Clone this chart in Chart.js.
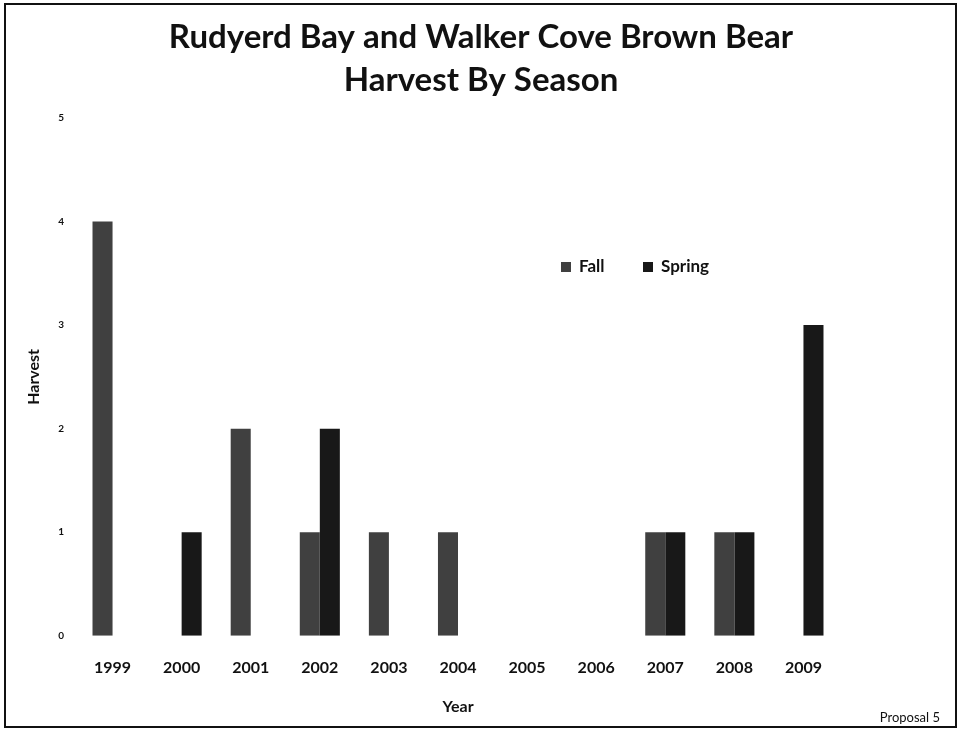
<!DOCTYPE html>
<html>
<head>
<meta charset="utf-8">
<script src="https://cdn.jsdelivr.net/npm/chart.js@4.4.0/dist/chart.umd.min.js"></script>
<style>
  html, body { margin: 0; padding: 0; background: #fff; }
  #wrap { position: relative; width: 961px; height: 732px; }
  #frame { position: absolute; left: 4px; top: 3px; width: 953px; height: 725px; border: 2px solid #111; box-sizing: border-box; pointer-events: none; }
</style>
</head>
<body>
<div id="wrap">
  <canvas id="barChart" width="961" height="732"></canvas>
  <div id="frame"></div>
</div>
<script>
var years = ['1999', '2000', '2001', '2002', '2003', '2004', '2005', '2006', '2007', '2008', '2009'];
var fallHarvest = [4, 0, 2, 1, 1, 1, 0, 0, 1, 1, 0];
var springHarvest = [0, 1, 0, 2, 0, 0, 0, 0, 1, 1, 3];
var yTicks = [0, 1, 2, 3, 4, 5];
var titleLines = ['Rudyerd Bay and Walker Cove Brown Bear', 'Harvest By Season'];
var footNote = 'Proposal 5';

var FONT = 'Lato, "Open Sans", sans-serif';

// title, in-plot legend and footnote drawn by hand (the title is centred on the page, not the plot)
const pageText = {
  id: 'pageText',
  afterDraw(chart) {
    const ctx = chart.ctx;
    const area = chart.chartArea;
    ctx.save();
    ctx.fillStyle = '#111';
    ctx.textAlign = 'center';
    ctx.textBaseline = 'alphabetic';
    ctx.font = 'bold 33px ' + FONT;
    ctx.fillText(titleLines[0], 481, 48);
    ctx.fillText(titleLines[1], 481, 91);

    const y = area.top + 149;
    let x = area.left + 483;
    ctx.textAlign = 'left';
    ctx.textBaseline = 'middle';
    ctx.font = 'bold 17px ' + FONT;
    chart.data.datasets.forEach(function(ds) {
      ctx.fillStyle = ds.backgroundColor;
      ctx.fillRect(x, y - 5, 10, 10);
      ctx.fillStyle = '#111';
      ctx.fillText(ds.label, x + 18, y);
      x += 82;
    });

    ctx.font = '13px ' + FONT;
    ctx.textAlign = 'right';
    ctx.fillText(footNote, 940, 718);
    ctx.restore();
  }
};

const ctxBar = document.getElementById('barChart');
const barChart = new Chart(ctxBar, {
  type: 'bar',
  data: {
    labels: years,
    datasets: [
      {
        label: 'Fall',
        data: fallHarvest,
        backgroundColor: '#404040',
      },
      {
        label: 'Spring',
        data: springHarvest,
        backgroundColor: '#181818',
      }
    ]
  },
  options: {
    responsive: false,
    animation: false,
    categoryPercentage: 0.58,
    barPercentage: 1.0,
    layout: {
      padding: { left: 24, right: 123, top: 118, bottom: 19 }
    },
    plugins: {
      legend: { display: false },
      tooltip: { enabled: false },
      title: { display: false }
    },
    scales: {
      x: {
        grid: { display: false, drawTicks: false },
        border: { display: false },
        ticks: {
          color: '#111',
          padding: 25,
          font: { family: FONT, size: 16, weight: 'bold', lineHeight: 0.9 }
        },
        title: {
          display: true,
          text: 'Year',
          color: '#111',
          padding: { top: 0, bottom: 0 },
          font: { family: FONT, size: 16, weight: 'bold', lineHeight: 0.8 }
        }
      },
      y: {
        min: 0,
        max: 5,
        afterBuildTicks: function(axis) {
          axis.ticks = yTicks.map(function(v) { return { value: v }; });
        },
        afterFit: function(axis) { axis.width = 54; },
        grid: { display: false, drawTicks: false },
        border: { display: false },
        ticks: {
          color: '#111',
          padding: 14,
          font: { family: FONT, size: 10, weight: 'bold' }
        },
        title: {
          display: true,
          text: 'Harvest',
          color: '#111',
          padding: { top: 0, bottom: 0 },
          font: { family: FONT, size: 16, weight: 'bold' }
        }
      }
    }
  },
  plugins: [pageText]
});
</script>
</body>
</html>
